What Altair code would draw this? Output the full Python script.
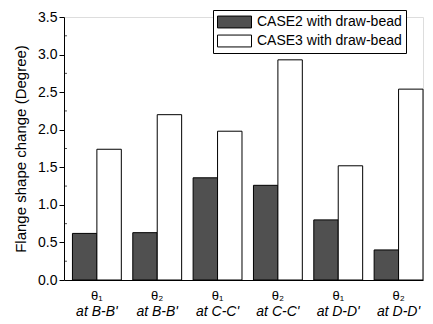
import altair as alt
import pandas as pd

groups = ["g1", "g2", "g3", "g4", "g5", "g6"]
theta_labels = ["θ₁", "θ₂", "θ₁", "θ₂", "θ₁", "θ₂"]
pos_labels = ["at B-B'", "at B-B'", "at C-C'", "at C-C'", "at D-D'", "at D-D'"]
series = ["CASE2 with draw-bead", "CASE3 with draw-bead"]
case2 = [0.62, 0.63, 1.36, 1.26, 0.80, 0.40]
case3 = [1.74, 2.20, 1.98, 2.93, 1.52, 2.54]
major_ticks = [0, 0.5, 1, 1.5, 2, 2.5, 3, 3.5]
minor_ticks = [0.25, 0.75, 1.25, 1.75, 2.25, 2.75, 3.25]

rows = []
for g, a, b in zip(groups, case2, case3):
    rows.append({"group": g, "series": series[0], "value": a})
    rows.append({"group": g, "series": series[1], "value": b})
df = pd.DataFrame(rows)
lab = pd.DataFrame({"group": groups, "theta": theta_labels, "pos": pos_labels})
mt = pd.DataFrame({"v": minor_ticks})

W, H = 359, 263
FONT = "Liberation Sans"

xscale = alt.Scale(domain=groups, paddingInner=0.19, paddingOuter=0.07, align=1)
yscale = alt.Scale(domain=[0, 3.5], nice=False)
yaxis = alt.Axis(values=major_ticks, format=".1f",
                 title="Flange shape change (Degree)", grid=False,
                 tickColor="black", domainColor="black", labelColor="black",
                 labelFontSize=14, titleFontSize=15, titleFontWeight="normal",
                 titleColor="black",
                 labelFont=FONT, titleFont=FONT, tickSize=5, titlePadding=9,
                 labelPadding=2)
xaxis = alt.Axis(labels=False, ticks=False, title=None, domainColor="black")

bars = alt.Chart(df).mark_bar(stroke="black", strokeWidth=1).encode(
    x=alt.X("group:N", scale=xscale, sort=groups, axis=xaxis),
    xOffset=alt.XOffset("series:N", sort=series),
    y=alt.Y("value:Q", scale=yscale, axis=yaxis),
    fill=alt.Fill("series:N", sort=series,
                  scale=alt.Scale(domain=series, range=["#505050", "white"]),
                  legend=alt.Legend(title=None, orient="none", legendX=149, legendY=-7,
                                    strokeColor="black", fillColor="white", padding=4,
                                    symbolType="M-1,-0.35H1V0.35H-1Z", symbolSize=1156,
                                    symbolStrokeColor="black", symbolStrokeWidth=1,
                                    labelFontSize=14, labelFont=FONT, labelColor="black",
                                    clipHeight=16, rowPadding=3, labelOffset=5)),
)

minor = alt.Chart(mt).mark_tick(color="black", thickness=1, size=3).encode(
    y=alt.Y("v:Q", scale=yscale, axis=yaxis),
    x=alt.value(1.5),
)

theta = alt.Chart(lab).mark_text(fontSize=13, font=FONT, color="black", baseline="middle").encode(
    x=alt.X("group:N", scale=xscale, sort=groups, axis=xaxis),
    y=alt.value(H + 16),
    text="theta:N",
)
pos = alt.Chart(lab).mark_text(fontSize=14, font=FONT, fontStyle="italic", color="black",
                                baseline="middle").encode(
    x=alt.X("group:N", scale=xscale, sort=groups, axis=xaxis),
    y=alt.value(H + 32),
    text="pos:N",
)

chart = alt.layer(bars, minor, theta, pos).properties(
    width=W, height=H,
    autosize=alt.AutoSizeParams(type="none"),
    padding={"left": 64, "top": 17, "right": 10, "bottom": 44},
).configure_view(stroke=None).configure(background="white")

chart.save("out.html", embed_options={"renderer": "svg", "actions": False})
